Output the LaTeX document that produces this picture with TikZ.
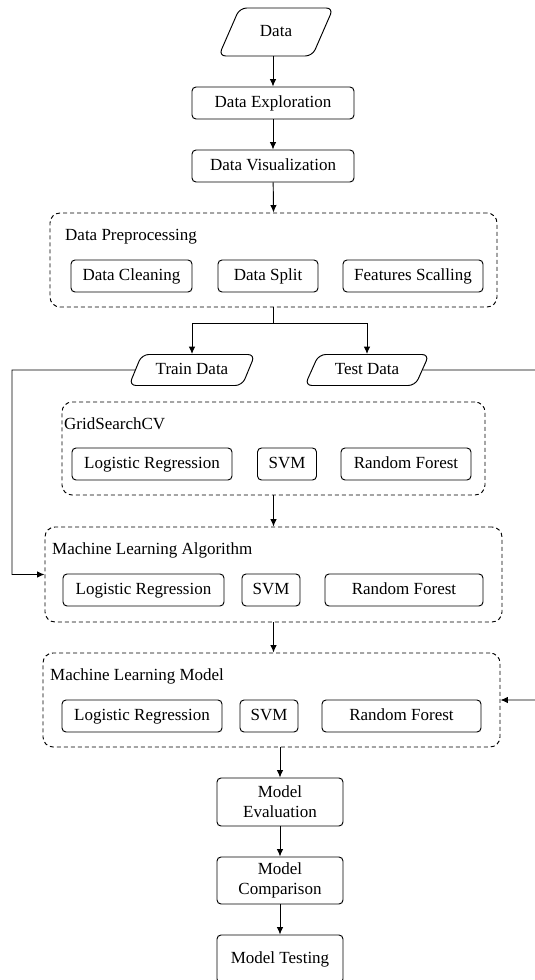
\documentclass[tikz,border=0pt]{standalone}
\usepackage{fontspec}
\setmainfont{Liberation Serif}
\usetikzlibrary{shapes.geometric,arrows.meta}
\begin{document}
\begin{tikzpicture}[x=1pt,y=-1pt,
  every node/.style={font=\fontsize{17}{20}\selectfont, inner sep=0pt},
  one/.style={text height=12pt, text depth=4pt},
  box/.style={draw, line width=0.95pt, rounded corners=4pt, align=center},
  group/.style={draw, line width=0.95pt, dash pattern=on 4pt off 3pt, rounded corners=10pt},
  iobox/.style={draw, line width=0.95pt, shape=trapezium, trapezium left angle=60, trapezium right angle=120,
     trapezium stretches=true, rounded corners=7pt, one},
  gtitle/.style={anchor=west, one},
  arr/.style={line width=0.95pt, -{Latex[length=7.5pt,width=6.5pt]}},
  ln/.style={line width=0.95pt}]
\useasboundingbox (0,0) rectangle (535,980);
\clip (0,0) rectangle (535,980);

\node[iobox, minimum width=115pt, minimum height=48pt] (data) at (276,32) {Data};
\node[box, one, minimum width=162pt, minimum height=32pt] (dexp) at (273,103) {Data Exploration};
\node[box, one, minimum width=162pt, minimum height=32pt] (dvis) at (273,166) {Data Visualization};

\node[group, minimum width=447pt, minimum height=94pt] (dp) at (273.5,260) {};
\node[gtitle] (dpt) at (65,236) {Data Preprocessing};
\node[box, one, minimum width=121pt, minimum height=32pt] (dclean) at (131.5,276) {Data Cleaning};
\node[box, one, minimum width=100pt, minimum height=32pt] (dsplit) at (268,276) {Data Split};
\node[box, one, minimum width=140pt, minimum height=32pt] (fscale) at (413,276) {Features Scalling};

\coordinate (split) at (273.5,323);
\node[iobox, minimum width=127pt, minimum height=31pt] (train) at (192,370) {Train Data};
\node[iobox, minimum width=125pt, minimum height=31pt] (test) at (367,370) {Test Data};

\node[group, minimum width=423pt, minimum height=93pt] (gs) at (273.5,448.5) {};
\node[gtitle] (gst) at (64,425) {GridSearchCV};
\node[box, one, minimum width=160pt, minimum height=32pt] (gslr) at (152,464) {Logistic Regression};
\node[box, one, minimum width=59pt, minimum height=32pt] (gssvm) at (287,464) {SVM};
\node[box, one, minimum width=130pt, minimum height=32pt] (gsrf) at (406,464) {Random Forest};

\node[group, minimum width=457pt, minimum height=95pt] (mla) at (273.5,574.5) {};
\node[gtitle] (mlat) at (52,550) {Machine Learning Algorithm};
\node[box, one, minimum width=161pt, minimum height=32pt] (alr) at (143.5,590) {Logistic Regression};
\node[box, one, minimum width=58pt, minimum height=32pt] (asvm) at (271,590) {SVM};
\node[box, one, minimum width=158pt, minimum height=32pt] (arf) at (404,590) {Random Forest};

\node[group, minimum width=457pt, minimum height=94pt] (mlm) at (271.5,700) {};
\node[gtitle] (mlmt) at (50,676) {Machine Learning Model};
\node[box, one, minimum width=160pt, minimum height=32pt] (mlr) at (142,716) {Logistic Regression};
\node[box, one, minimum width=58pt, minimum height=32pt] (msvm) at (269,716) {SVM};
\node[box, one, minimum width=159pt, minimum height=32pt] (mrf) at (401.5,716) {Random Forest};

\node[box, minimum width=126pt, minimum height=48pt] (meval) at (280,802) {Model\\Evaluation};
\node[box, minimum width=126pt, minimum height=47pt] (mcomp) at (280,880.5) {Model\\Comparison};
\node[box, one, minimum width=126pt, minimum height=48pt] (mtest) at (280,959) {Model Testing};

\coordinate (lcorner) at (12,370);
\coordinate (rcorner) at (545,370);

\draw[arr] (dexp.north |- data.south) -- (dexp.north);
\draw[arr] (dexp) -- (dvis);
\draw[arr] (dvis) -- (dp.north);
\draw[ln] (dp.south) -- (split);
\draw[arr] (split) -| (train.north);
\draw[arr] (split) -| (test.north);
\draw[arr] (train.west) -- (lcorner) |- (mla.west);
\draw[arr] (test.east) -- (rcorner) |- (mlm.east);
\draw[arr] (gs.south) -- (mla.north);
\draw[arr] (mla.south) -- (mla.south |- mlm.north);
\draw[arr] (meval.north |- mlm.south) -- (meval.north);
\draw[arr] (meval) -- (mcomp);
\draw[arr] (mcomp) -- (mtest);
\end{tikzpicture}
\end{document}
